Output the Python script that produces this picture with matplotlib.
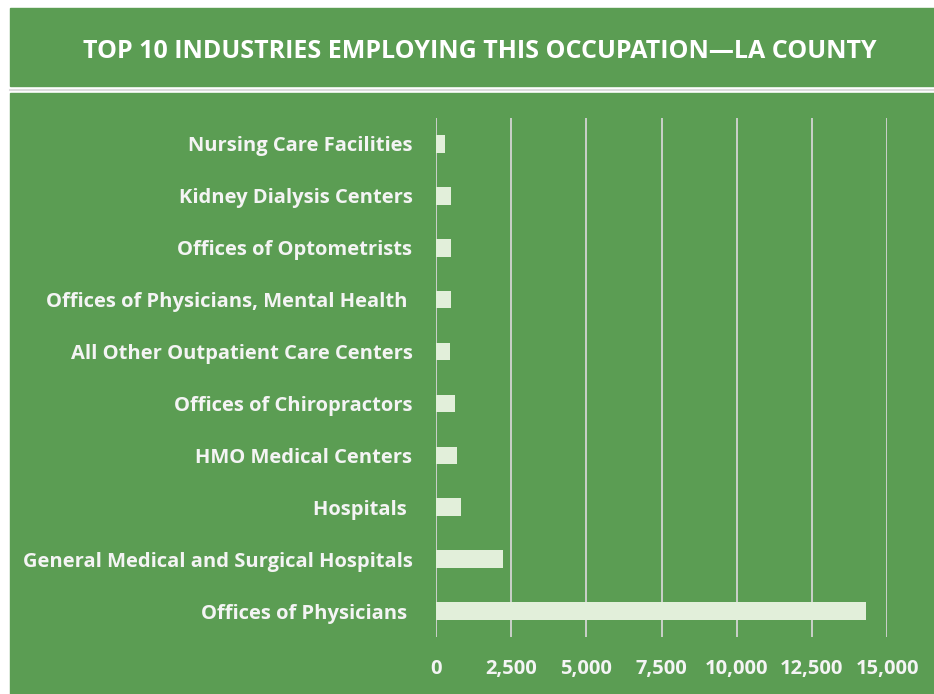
import matplotlib.pyplot as plt
from matplotlib.lines import Line2D
from matplotlib.patches import Rectangle

# data (top to bottom)
industries = [
    "Nursing Care Facilities",
    "Kidney Dialysis Centers",
    "Offices of Optometrists",
    "Offices of Physicians, Mental Health ",
    "All Other Outpatient Care Centers",
    "Offices of Chiropractors",
    "HMO Medical Centers",
    "Hospitals ",
    "General Medical and Surgical Hospitals",
    "Offices of Physicians ",
]
employment = [300, 490, 490, 490, 470, 630, 700, 830, 2230, 14300]
xticks = [0, 2500, 5000, 7500, 10000, 12500, 15000]

GREEN = "#5b9d53"
BAR = "#e2efda"
GRID = "#d4d4d4"
TXT = "#f4f4f4"
FONT = ["Open Sans", "DejaVu Sans"]

plt.rcParams["font.family"] = FONT

fig = plt.figure(figsize=(9.34, 6.94), dpi=100)
fig.patch.set_facecolor("white")

# green panels (title band + plot area)
fig.add_artist(Rectangle((10 / 934, 1 - 86 / 694), 924 / 934, 78 / 694,
                         transform=fig.transFigure, color=GREEN, zorder=0))
fig.add_artist(Rectangle((10 / 934, 0), 924 / 934, 1 - 93 / 694,
                         transform=fig.transFigure, color=GREEN, zorder=0))
fig.add_artist(Line2D([10 / 934, 1], [1 - 89.5 / 694] * 2, transform=fig.transFigure,
                      color="#dcdcdc", lw=1.5, zorder=1))

fig.text(0.514, 1 - 52 / 694, "TOP 10 INDUSTRIES EMPLOYING THIS OCCUPATION\u2014LA COUNTY",
         ha="center", va="center", color="white", fontsize=18, fontweight="bold")

ax = fig.add_axes([436 / 934, 1 - 637 / 694, (887 - 436) / 934, (637 - 118) / 694])
ax.set_facecolor("none")

ypos = range(len(industries))
ax.barh(ypos, employment, height=0.34, color=BAR, zorder=3)

ax.set_xlim(0, 15000)
ax.set_ylim(len(industries) - 0.5, -0.5)
ax.set_xticks(xticks)
ax.set_xticklabels([f"{v:,}" for v in xticks])
ax.set_yticks(list(ypos))
ax.set_yticklabels(industries)
ax.grid(axis="x", color=GRID, lw=1.3, zorder=1)
ax.tick_params(axis="both", length=0, colors=TXT, labelsize=14.5)
ax.tick_params(axis="x", pad=16, labelsize=14.5)
ax.tick_params(axis="y", pad=17)
for lab in ax.get_xticklabels() + ax.get_yticklabels():
    lab.set_fontweight("bold")
for s in ax.spines.values():
    s.set_visible(False)

plt.savefig("out.png", dpi=100)
